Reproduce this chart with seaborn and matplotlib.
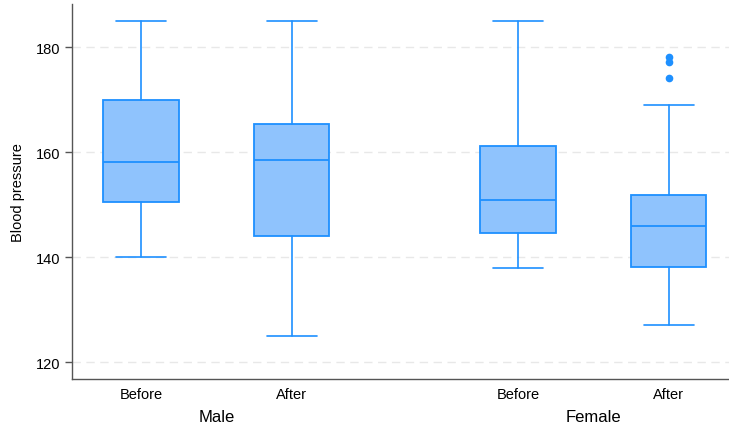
import matplotlib
matplotlib.use("Agg")
import matplotlib.pyplot as plt
import seaborn as sns

# Box statistics
groups = ["Male", "Male", "Female", "Female"]
periods = ["Before", "After", "Before", "After"]
whisker_low = [140, 125, 138, 127]
q1 = [150.5, 144.0, 144.6, 138.1]
median = [158.1, 158.5, 150.9, 145.9]
q3 = [169.9, 165.3, 161.1, 151.8]
whisker_high = [185, 185, 185, 169]
outliers = [[], [], [], [174.1, 177.1, 178.1]]

group_names = ["Male", "Female"]
yticks = [120, 140, 160, 180]

positions = [1, 2, 3.5, 4.5]
edge = "#1E90FF"
fill = "#8FC3FD"

sns.set_theme(style="white")
plt.rcParams["font.family"] = ["Liberation Sans", "DejaVu Sans"]
plt.rcParams["text.color"] = "black"
plt.rcParams["axes.labelcolor"] = "black"
plt.rcParams["xtick.color"] = "black"
plt.rcParams["ytick.color"] = "black"

fig = plt.figure(figsize=(7.29, 4.27), dpi=100)
ax = fig.add_axes([0.0988, 0.110, 0.9012, 0.878])

stats = []
for i in range(len(periods)):
    stats.append({
        "label": periods[i],
        "whislo": whisker_low[i],
        "q1": q1[i],
        "med": median[i],
        "q3": q3[i],
        "whishi": whisker_high[i],
        "fliers": outliers[i],
    })

ax.bxp(
    stats,
    positions=positions,
    widths=0.5,
    capwidths=0.33,
    patch_artist=True,
    boxprops=dict(facecolor=fill, edgecolor=edge, linewidth=1.3),
    medianprops=dict(color=edge, linewidth=1.3),
    whiskerprops=dict(color=edge, linewidth=1.2),
    capprops=dict(color=edge, linewidth=1.2),
    flierprops=dict(marker="o", markerfacecolor=edge, markeredgecolor=edge,
                    markersize=4.5),
)

ax.set_xlim(0.543, 4.9)
ax.set_ylim(116.8, 188.2)
ax.set_yticks(yticks)
ax.set_yticklabels([str(t) for t in yticks], fontsize=10.5)
ax.set_xticks(positions)
ax.set_xticklabels(periods, fontsize=10.5)
ax.tick_params(axis="x", length=0, pad=6)
ax.tick_params(axis="y", length=5, width=1, color="#555555", direction="out", left=True)

for y in yticks:
    ax.axhline(y, color="#E8E8E8", linestyle=(0, (6, 4)), linewidth=1, zorder=0)

for s in ["top", "right"]:
    ax.spines[s].set_visible(False)
for s in ["left", "bottom"]:
    ax.spines[s].set_color("#555555")
    ax.spines[s].set_linewidth(1)

ax.set_ylabel("Blood pressure", fontsize=10.5, labelpad=8)

# group labels under the tick labels
group_centers = [(positions[0] + positions[1]) / 2, (positions[2] + positions[3]) / 2]
for name, xc in zip(group_names, group_centers):
    ax.text(xc, -0.101, name, transform=ax.get_xaxis_transform(),
            ha="center", va="center", fontsize=12)

fig.savefig("out.png", dpi=100)
